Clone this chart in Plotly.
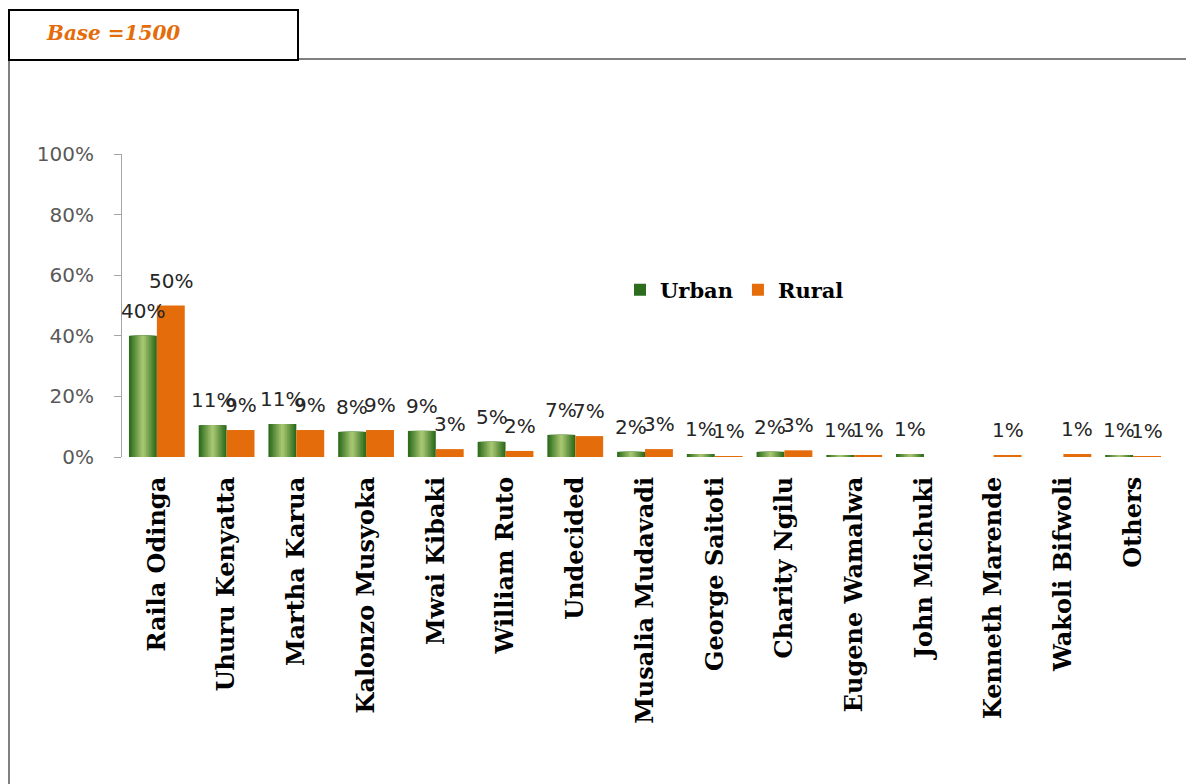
import plotly.graph_objs as go

candidates = ["Raila Odinga", "Uhuru Kenyatta", "Martha Karua", "Kalonzo Musyoka",
              "Mwai Kibaki", "William Ruto", "Undecided", "Musalia Mudavadi",
              "George Saitoti", "Charity Ngilu", "Eugene Wamalwa", "John Michuki",
              "Kenneth Marende", "Wakoli Bifwoli", "Others"]

# bar heights (%), labels as printed on the chart
urban = [40, 10.5, 10.9, 8.3, 8.6, 5, 7.3, 1.7, 1, 1.7, 0.5, 1, None, None, 0.5]
rural = [50, 8.9, 8.9, 8.9, 2.6, 2, 6.9, 2.6, 0.2, 2.2, 0.5, None, 0.6, 1, 0.2]
urban_lbl = ["40%", "11%", "11%", "8%", "9%", "5%", "7%", "2%", "1%", "2%", "1%", "1%", "", "", "1%"]
rural_lbl = ["50%", "9%", "9%", "9%", "3%", "2%", "7%", "3%", "1%", "3%", "1%", "", "1%", "1%", "1%"]

y_ticks = [0, 20, 40, 60, 80, 100]
y_tick_text = [f"{v}%" for v in y_ticks]

ORANGE = "#E46C0A"
GREEN_EDGE = (44, 108, 28)
GREEN_MID = (165, 196, 112)

# page is drawn with an 8px body margin; plot area on screen: x 122..1168, y 154..457
OFF = 8
L, R, T, B = 122, 1168, 154, 457
W, H = R - L, B - T
BAR_W = 0.40           # one bar, in category units
N_LAYERS = 9           # layers used to fake the green cylinder gradient


def px(x):
    return (x - L) / W


def py(y):
    return (B - y) / H


def mix(a, b, t):
    return "rgb(%d,%d,%d)" % tuple(round(a[i] + (b[i] - a[i]) * t) for i in range(3))


fig = go.Figure()

# urban bars: stacked layers, each narrower and lighter, centred on the bar
for k in range(N_LAYERS):
    w = BAR_W * (1 - k / N_LAYERS)
    fig.add_trace(go.Bar(
        x=candidates, y=urban, name="<b>Urban</b>",
        width=w, offset=-BAR_W / 2 - w / 2,
        marker=dict(color=mix(GREEN_EDGE, GREEN_MID, k / (N_LAYERS - 1)), line=dict(width=0)),
        showlegend=(k == 0), legendgroup="urban", hoverinfo="skip" if k else None,
    ))

fig.add_trace(go.Bar(
    x=candidates, y=rural, name="<b>Rural</b>",
    width=BAR_W, offset=0,
    marker=dict(color=ORANGE, line=dict(width=0)),
))

# value labels above the bars
for series, labels, shift in ((urban, urban_lbl, -14), (rural, rural_lbl, 14)):
    for cat, v, lbl in zip(candidates, series, labels):
        if not lbl:
            continue
        fig.add_annotation(x=cat, y=v or 0, text=lbl, showarrow=False,
                           xshift=shift, yshift=11, yanchor="bottom",
                           font=dict(family="DejaVu Sans", size=20, color="#262626"))

fig.update_layout(
    width=1194, height=784,
    margin=dict(l=L - OFF, r=1194 + OFF - R, t=T - OFF, b=784 + OFF - B),
    paper_bgcolor="white", plot_bgcolor="white",
    barmode="overlay",
    showlegend=True,
    legend=dict(orientation="h", x=px(620), y=py(290), xanchor="left", yanchor="middle",
                font=dict(family="DejaVu Serif", size=21, color="black"),
                itemwidth=30, bgcolor="rgba(0,0,0,0)"),
)
fig.update_xaxes(
    range=[-0.5, len(candidates) - 0.5],
    tickangle=-90, showgrid=False, showline=False, ticks="",
    ticklabelstandoff=14,
    tickfont=dict(family="DejaVu Serif", size=24, color="black", weight="bold"),
)
fig.update_yaxes(
    range=[0, 100], tickvals=y_ticks, ticktext=y_tick_text,
    showgrid=False, showline=True, linecolor="#A6A6A6", linewidth=1,
    ticks="outside", ticklen=7, tickcolor="#A6A6A6",
    ticklabelstandoff=16,
    tickfont=dict(family="DejaVu Sans", size=20, color="#595959"),
    zeroline=False,
)

# frame and title box
fig.add_shape(type="line", xref="paper", yref="paper",
              x0=px(298), x1=px(1200), y0=py(59), y1=py(59),
              line=dict(color="#808080", width=2))
fig.add_shape(type="line", xref="paper", yref="paper",
              x0=px(9), x1=px(9), y0=py(60), y1=py(790),
              line=dict(color="#808080", width=2))
fig.add_shape(type="rect", xref="paper", yref="paper",
              x0=px(9), x1=px(298), y0=py(60), y1=py(10),
              line=dict(color="black", width=2), fillcolor="white")
fig.add_annotation(xref="paper", yref="paper", x=px(44), y=py(33),
                   xanchor="left", yanchor="middle", showarrow=False,
                   text="<b><i>Base =1500</i></b>",
                   font=dict(family="DejaVu Serif", size=20, color=ORANGE))

fig.write_html("out.html")
